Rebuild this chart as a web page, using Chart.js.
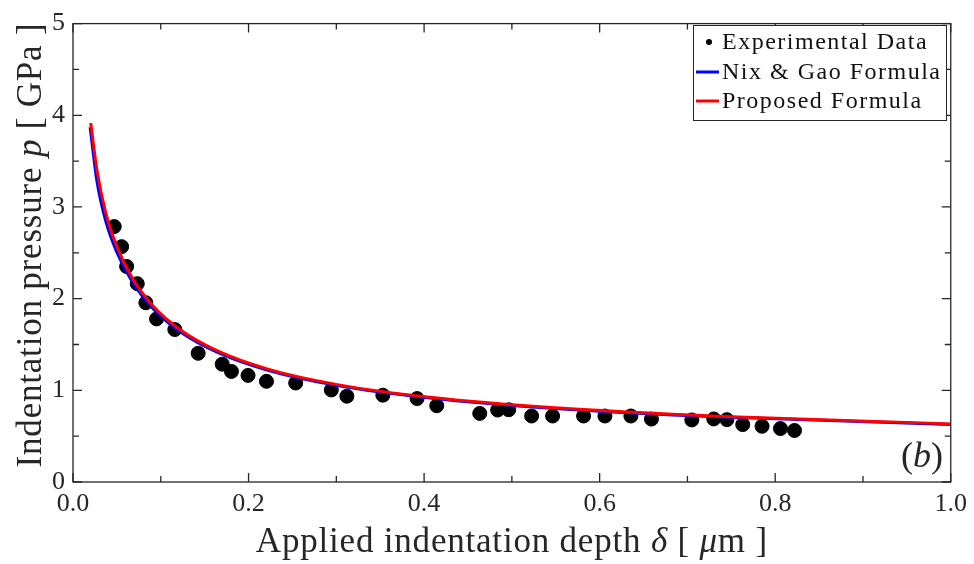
<!DOCTYPE html>
<html>
<head>
<meta charset="utf-8">
<script src="https://cdn.jsdelivr.net/npm/chart.js@4.4.1/dist/chart.umd.min.js"></script>
<style>
  html, body { margin: 0; padding: 0; background: #fff; }
  #wrap { width: 974px; height: 564px; }
</style>
</head>
<body>
<div id="wrap"><canvas id="grafico" width="974" height="564"></canvas></div>
<script>
// pontos experimentais (delta em um, p em GPa)
const expX = [0.047, 0.0554, 0.0611, 0.0732, 0.083, 0.0952, 0.116, 0.1426, 0.170, 0.1805, 0.1994, 0.2204,
    0.2537, 0.2943, 0.312, 0.353, 0.392, 0.4144, 0.4634, 0.4838, 0.4964, 0.5225, 0.5464, 0.5817, 0.606,
    0.6356, 0.659, 0.705, 0.730, 0.745, 0.763, 0.785, 0.806, 0.822];
const expY = [2.786, 2.567, 2.351, 2.163, 1.955, 1.779, 1.663, 1.404, 1.285, 1.206, 1.163, 1.098,
    1.080, 1.004, 0.936, 0.947, 0.910, 0.832, 0.748, 0.785, 0.788, 0.720, 0.720, 0.720, 0.720,
    0.720, 0.686, 0.677, 0.688, 0.680, 0.626, 0.608, 0.583, 0.562];

// curva Nix & Gao
const nixX = [0.0195, 0.0273, 0.0369, 0.0498, 0.0672, 0.0907, 0.1225, 0.1653, 0.2231, 0.301, 0.4066,
    0.549, 0.741, 1.0];
const nixY = [3.87, 3.28, 2.86, 2.51, 2.19, 1.895, 1.635, 1.41, 1.215, 1.053, 0.917,
    0.803, 0.709, 0.628];

// curva proposta
const propX = [0.0202, 0.0273, 0.0369, 0.0498, 0.0672, 0.0907, 0.1225, 0.1653, 0.2231, 0.301, 0.4066,
    0.549, 0.741, 1.0];
const propY = [3.916, 3.40, 2.953, 2.573, 2.231, 1.926, 1.658, 1.427, 1.228, 1.062, 0.924,
    0.809, 0.715, 0.634];

const xTicks = [0, 0.2, 0.4, 0.6, 0.8, 1.0];
const yTicks = [0, 1, 2, 3, 4, 5];
const legendLabels = ["Experimental Data", "Nix & Gao Formula", "Proposed Formula"];

const SERIF = "'Liberation Serif', 'DejaVu Serif', serif";
const INK = "#262626";

function pares(xs, ys) {
    return xs.map((x, i) => ({ x: x, y: ys[i] }));
}

// escreve um texto com partes em itálico, centrado em (0,0)
function textoMisto(ctx, partes, size, esp) {
    ctx.letterSpacing = (esp || 0) + "px";
    let total = 0;
    partes.forEach(p => {
        ctx.font = (p.i ? "italic " : "") + size + "px " + SERIF;
        p.w = ctx.measureText(p.t).width;
        total += p.w;
    });
    let x = -total / 2;
    partes.forEach(p => {
        ctx.font = (p.i ? "italic " : "") + size + "px " + SERIF;
        ctx.fillText(p.t, x, 0);
        x += p.w;
    });
    ctx.letterSpacing = "0px";
}

const moldura = {
    id: "moldura",
    afterDraw(chart) {
        const ctx = chart.ctx;
        const a = chart.chartArea;
        const sx = chart.scales.x, sy = chart.scales.y;
        ctx.save();
        ctx.strokeStyle = INK;
        ctx.lineWidth = 1.3;
        ctx.strokeRect(a.left, a.top, a.right - a.left, a.bottom - a.top);

        // marcas para dentro, nos quatro lados
        ctx.beginPath();
        for (let v = 0; v <= 1.0001; v += 0.1) {
            const px = sx.getPixelForValue(v);
            const len = Math.abs(v * 5 - Math.round(v * 5)) < 1e-6 ? 9 : 6;
            ctx.moveTo(px, a.bottom); ctx.lineTo(px, a.bottom - len);
            ctx.moveTo(px, a.top); ctx.lineTo(px, a.top + len);
        }
        for (let v = 0; v <= 5.0001; v += 0.5) {
            const py = sy.getPixelForValue(v);
            const len = Math.abs(v - Math.round(v)) < 1e-6 ? 9 : 6;
            ctx.moveTo(a.left, py); ctx.lineTo(a.left + len, py);
            ctx.moveTo(a.right, py); ctx.lineTo(a.right - len, py);
        }
        ctx.stroke();

        // legenda
        const lx = 693, ly = 25, lw = 253, lh = 95;
        ctx.fillStyle = "#fff";
        ctx.fillRect(lx, ly, lw, lh);
        ctx.lineWidth = 1;
        ctx.strokeRect(lx + 0.5, ly + 0.5, lw, lh);
        const rows = [42, 72, 101];
        ctx.fillStyle = "#000";
        ctx.beginPath();
        ctx.arc(709, rows[0], 3, 0, Math.PI * 2);
        ctx.fill();
        ctx.lineWidth = 3;
        ctx.strokeStyle = "#0000ff";
        ctx.beginPath(); ctx.moveTo(696, rows[1]); ctx.lineTo(719, rows[1]); ctx.stroke();
        ctx.strokeStyle = "#ff0000";
        ctx.beginPath(); ctx.moveTo(696, rows[2]); ctx.lineTo(719, rows[2]); ctx.stroke();
        ctx.fillStyle = "#111";
        ctx.font = "24px " + SERIF;
        ctx.letterSpacing = "1.5px";
        ctx.textBaseline = "middle";
        ctx.textAlign = "left";
        legendLabels.forEach((t, i) => ctx.fillText(t, 722, rows[i] + 1));
        ctx.letterSpacing = "0px";

        // titulos dos eixos
        ctx.fillStyle = INK;
        ctx.textBaseline = "alphabetic";
        ctx.save();
        ctx.translate((a.left + a.right) / 2, 552);
        textoMisto(ctx, [
            { t: "Applied indentation depth ", i: false },
            { t: "δ", i: true },
            { t: " [ ", i: false },
            { t: "μ", i: true },
            { t: "m ]", i: false }
        ], 35, 0.8);
        ctx.restore();
        ctx.save();
        ctx.translate(41, 245);
        ctx.rotate(-Math.PI / 2);
        textoMisto(ctx, [
            { t: "Indentation pressure ", i: false },
            { t: "p", i: true },
            { t: " [ GPa ]", i: false }
        ], 35, 0.8);
        ctx.restore();

        // rotulo (b)
        ctx.save();
        ctx.translate(922, 467);
        textoMisto(ctx, [
            { t: "(", i: false },
            { t: "b", i: true },
            { t: ")", i: false }
        ], 36);
        ctx.restore();
        ctx.restore();
    }
};

const ctx1 = document.getElementById("grafico").getContext("2d");

new Chart(ctx1, {
    type: "scatter",
    data: {
        datasets: [
            {
                label: legendLabels[0],
                data: pares(expX, expY),
                backgroundColor: "#000",
                borderColor: "#000",
                pointRadius: 7,
                showLine: false,
                order: 3
            },
            {
                label: legendLabels[1],
                data: pares(nixX, nixY),
                borderColor: "#0000ff",
                borderWidth: 3,
                pointRadius: 0,
                showLine: true,
                cubicInterpolationMode: "monotone",
                order: 2
            },
            {
                label: legendLabels[2],
                data: pares(propX, propY),
                borderColor: "#ff0000",
                borderWidth: 3,
                pointRadius: 0,
                showLine: true,
                cubicInterpolationMode: "monotone",
                order: 1
            }
        ]
    },
    options: {
        responsive: false,
        animation: false,
        layout: { padding: { top: 19, right: 22, left: 0, bottom: 0 } },
        plugins: {
            legend: { display: false },
            tooltip: { enabled: false }
        },
        scales: {
            x: {
                type: "linear",
                min: 0,
                max: 1,
                afterBuildTicks: s => { s.ticks = xTicks.map(v => ({ value: v })); },
                afterFit: s => { s.height = 82; },
                ticks: {
                    callback: v => v.toFixed(1),
                    font: { family: SERIF, size: 26 },
                    color: INK,
                    padding: 7,
                    maxRotation: 0
                },
                grid: { display: false, drawTicks: false },
                border: { display: false }
            },
            y: {
                min: 0,
                max: 5,
                afterBuildTicks: s => { s.ticks = yTicks.map(v => ({ value: v })); },
                afterFit: s => { s.width = 73; },
                ticks: {
                    callback: v => String(v),
                    font: { family: SERIF, size: 26 },
                    color: INK,
                    padding: 8
                },
                grid: { display: false, drawTicks: false },
                border: { display: false }
            }
        }
    },
    plugins: [moldura]
});
</script>
</body>
</html>
